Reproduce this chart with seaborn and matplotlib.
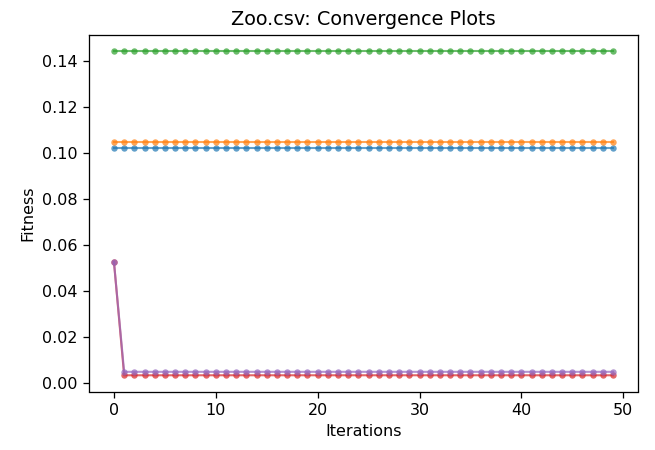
import matplotlib
matplotlib.use("Agg")
import matplotlib.pyplot as plt
import numpy as np
import pandas as pd
import seaborn as sns

# Fitness per iteration for each optimiser run
iterations = list(range(50))
run_1 = [0.1022] * 50
run_2 = [0.1046] * 50
run_3 = [0.1443] * 50
run_4 = [0.0526] + [0.0034] * 49
run_5 = [0.0526] + [0.0049] * 49
run_names = ["Run 1", "Run 2", "Run 3", "Run 4", "Run 5"]

series = [run_1, run_2, run_3, run_4, run_5]
df = pd.concat(
    [pd.DataFrame({"Iterations": iterations, "Fitness": vals, "run": name})
     for name, vals in zip(run_names, series)],
    ignore_index=True,
)

plt.rcParams["font.family"] = ["DejaVu Sans"]
plt.rcParams["font.size"] = 10

DPI = 115.2
W, H = 655, 450
fig = plt.figure(figsize=(W / DPI, H / DPI), dpi=DPI)
ax = fig.add_axes([89 / W, 1 - 391.5 / H, (638 - 89) / W, (391.5 - 34.5) / H])

sns.lineplot(
    data=df, x="Iterations", y="Fitness", hue="run",
    palette=sns.color_palette("tab10", 5), marker="o", markersize=4,
    markeredgewidth=0, alpha=0.7, linewidth=1.3, legend=False, ax=ax,
)

ax.set_title("Zoo.csv: Convergence Plots", fontsize=12)
ax.set_xlabel("Iterations", fontsize=10)
ax.set_ylabel("Fitness", fontsize=10)
ax.set_xticks([0, 10, 20, 30, 40, 50])
ax.set_yticks(np.arange(0, 0.141, 0.02))
ax.set_yticklabels([f"{v:.2f}" for v in np.arange(0, 0.141, 0.02)])

fig.savefig("out.png", dpi=DPI)
